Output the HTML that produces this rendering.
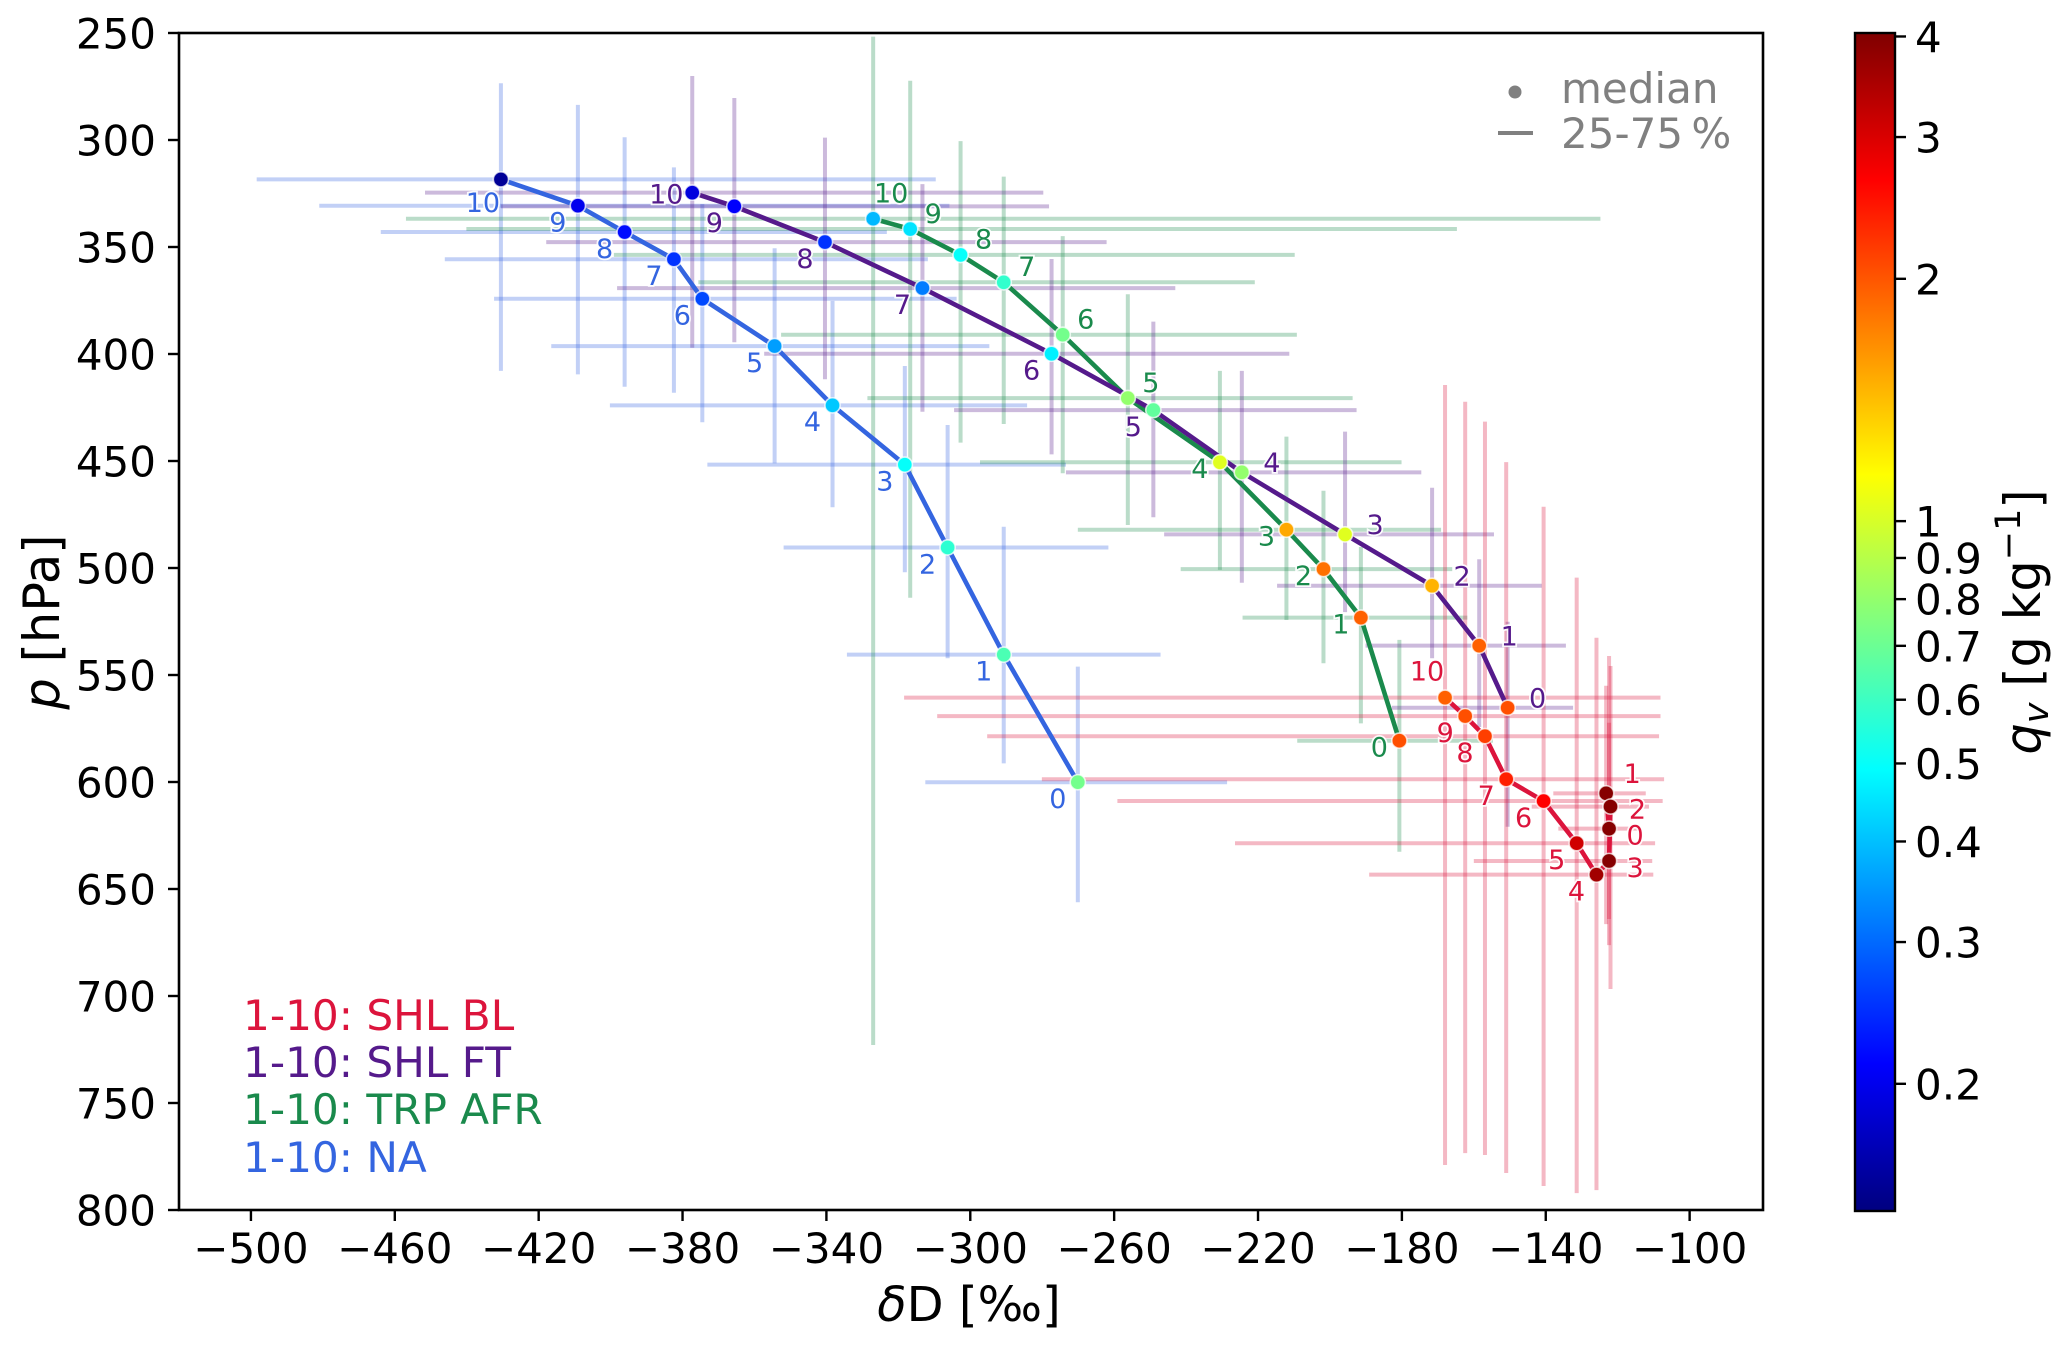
<!DOCTYPE html>
<html lang="en">
<head>
<meta charset="utf-8">
<title>Water vapour isotopologue composition along trajectory steps</title>
<style>
  html, body { margin: 0; padding: 0; background: #fff; }
  svg { display: block; font-family: "DejaVu Sans", "Liberation Sans", sans-serif; }
</style>
</head>
<body>
<svg id="chart" xmlns="http://www.w3.org/2000/svg" width="2067" height="1346" viewBox="0 0 2067 1346">
  <defs>
    <linearGradient id="jet-gradient" x1="0" y1="1" x2="0" y2="0"></linearGradient>
  </defs>
  <rect x="0" y="0" width="2067" height="1346" fill="#ffffff"/>
  <g id="plot-layer"></g>
  <rect x="179" y="33" width="1584" height="1177" fill="none" stroke="#000" stroke-width="2.6"/>
  <g id="axis-layer"></g>

  <text x="969" y="1321" font-size="48" text-anchor="middle" fill="#000"><tspan font-style="italic">δ</tspan>D [‰]</text>
  <text transform="translate(59,622) rotate(-90)" font-size="49.5" text-anchor="middle" fill="#000"><tspan font-style="italic">p</tspan> [hPa]</text>

  <g>
    <circle cx="1515" cy="92" r="6.5" fill="#808080"/>
    <text x="1561" y="103" font-size="42" fill="#808080">median</text>
    <rect x="1498" y="131" width="35" height="4" fill="#808080"/>
    <text x="1561" y="148" font-size="42" fill="#808080">25-75&#8201;%</text>
  </g>

  <g font-size="42.2">
    <text x="243" y="1030" fill="#dc143c">1-10: SHL BL</text>
    <text x="243" y="1077" fill="#551a8b">1-10: SHL FT</text>
    <text x="243" y="1124" fill="#1a8a4c">1-10: TRP AFR</text>
    <text x="243" y="1172" fill="#3465e0">1-10: NA</text>
  </g>

  <rect x="1855" y="33" width="40" height="1178" fill="url(#jet-gradient)" stroke="#000" stroke-width="2.4"/>
  <g id="colorbar-layer"></g>
  <text transform="translate(2040,622) rotate(-90)" font-size="49.5" text-anchor="middle" fill="#000"><tspan font-style="italic">q</tspan><tspan font-style="italic" font-size="35" dy="8">v</tspan><tspan dy="-8"> [g kg</tspan><tspan font-size="35" dy="-20">−1</tspan><tspan dy="20">]</tspan></text>
</svg>

<script>
// Axis tick values
const xTicks = [-500, -460, -420, -380, -340, -300, -260, -220, -180, -140, -100];
const yTicks = [250, 300, 350, 400, 450, 500, 550, 600, 650, 700, 750, 800];
const colorbarTicks = [0.2, 0.3, 0.4, 0.5, 0.6, 0.7, 0.8, 0.9, 1, 2, 3, 4];
const colorbarTickLabels = ['0.2', '0.3', '0.4', '0.5', '0.6', '0.7', '0.8', '0.9', '1', '2', '3', '4'];
const trajectorySteps = [0, 1, 2, 3, 4, 5, 6, 7, 8, 9, 10];

// NA
const naDelta = [-270.1, -290.7, -306.3, -318.2, -338.3, -354.4, -374.5, -382.4, -396.1, -409.1, -430.5];
const naPressure = [600.1, 540.5, 490.4, 451.7, 424, 396.3, 374.2, 355.7, 343, 330.7, 318.4];
const naDeltaLow = [-312.5, -334.3, -351.9, -373.1, -400.2, -416.5, -432.4, -446.1, -463.9, -481, -498.4];
const naDeltaHigh = [-228.6, -247.1, -261.6, -273.4, -284.2, -294.7, -303.8, -311.8, -323.2, -305.8, -309.6];
const naPressureLow = [546.1, 480.7, 433.2, 405.6, 375.2, 350.6, 329.9, 312.8, 298.7, 283.6, 273.5];
const naPressureHigh = [656.2, 591.3, 542.2, 502, 471.6, 451.1, 431.9, 418.1, 415.3, 409.5, 407.9];
const naHumidity = [0.72, 0.63, 0.57, 0.5, 0.41, 0.357, 0.27, 0.25, 0.22, 0.2, 0.15];

// TRP AFR
const trpDelta = [-180.7, -191.4, -201.8, -212.1, -230.6, -256.2, -274.3, -290.7, -302.7, -316.7, -327];
const trpPressure = [580.7, 523.2, 500.5, 482.1, 450.6, 420.6, 391, 366.5, 353.7, 341.6, 336.8];
const trpDeltaLow = [-209.1, -224.3, -241.5, -270.1, -297.3, -328.6, -352.6, -375.6, -399.1, -440.1, -456.9];
const trpDeltaHigh = [-154.7, -161.8, -166, -169.1, -180.1, -193.7, -209.2, -220.9, -209.8, -164.7, -124.8];
const trpPressureLow = [533.6, 490.2, 463.9, 438.6, 407.9, 372.1, 344.9, 317.1, 300.5, 272.3, 251.7];
const trpPressureHigh = [632.6, 572.6, 544.5, 524.3, 500.9, 479.9, 455.7, 432.7, 441.4, 513.9, 722.9];
const trpHumidity = [2.04, 1.93, 1.83, 1.52, 1.03, 0.8, 0.72, 0.58, 0.5, 0.45, 0.39];

// SHL FT
const ftDelta = [-150.6, -158.5, -171.6, -195.8, -224.5, -249.1, -277.4, -313.3, -340.4, -365.6, -377.3];
const ftPressure = [565.3, 536.3, 508.3, 484.3, 455.3, 426.2, 399.9, 369.2, 347.7, 331, 324.6];
const ftDeltaLow = [-182.8, -190.1, -214.7, -246.1, -273.4, -304.5, -357.3, -398.2, -417.9, -430.5, -451.6];
const ftDeltaHigh = [-132.4, -134.4, -141.1, -154.4, -174.6, -192.6, -211.3, -243, -262.1, -278.1, -279.7];
const ftPressureLow = [525.1, 495.9, 462.5, 436.3, 407.9, 384.9, 355.6, 320.6, 298.9, 280.4, 270.1];
const ftPressureHigh = [620.9, 574.3, 542.2, 520.6, 506.9, 476.3, 446.9, 427, 411.8, 394.5, 397.1];
const ftHumidity = [2.04, 1.93, 1.47, 1.03, 0.8, 0.68, 0.47, 0.32, 0.25, 0.21, 0.19];

// SHL BL
const blDelta = [-122.4, -123.2, -122, -122.4, -125.9, -131.4, -140.6, -151, -156.9, -162.4, -168];
const blPressure = [621.8, 605.3, 611.5, 636.9, 643.3, 628.6, 608.9, 598.7, 578.6, 569.2, 560.6];
const blDeltaLow = [-136.5, -137.9, -143.9, -160, -189.1, -226.4, -259.1, -280.1, -295.3, -309.2, -318.4];
const blDeltaHigh = [-113.8, -112.2, -111.3, -110.4, -110.1, -109.6, -107.5, -107.1, -108.5, -108.1, -108.1];
const blPressureLow = [541.1, 555, 545.8, 572.3, 532.6, 504.5, 471.4, 450.5, 431.6, 422.3, 414.5];
const blPressureHigh = [664, 666.4, 696.7, 676.2, 790.7, 792.1, 788.8, 782.7, 774.3, 773.4, 779];
const blHumidity = [3.95, 3.95, 3.95, 3.95, 3.6, 3.1, 2.65, 2.39, 2.16, 2.04, 1.93];

const SVG_NS = 'http://www.w3.org/2000/svg';
const plotLeft = 179, plotRight = 1763, plotTop = 33, plotBottom = 1210;
const deltaMin = -520, deltaMax = -79.6, pressureMin = 250, pressureMax = 800;
const humidityMin = 0.139, humidityMax = 4.04;
const barTop = 33, barBottom = 1211, barRight = 1895;

function xScale(value) {
  return plotLeft + (value - deltaMin) / (deltaMax - deltaMin) * (plotRight - plotLeft);
}
function yScale(value) {
  return plotTop + (value - pressureMin) / (pressureMax - pressureMin) * (plotBottom - plotTop);
}
function humidityFraction(value) {
  return Math.log(value / humidityMin) / Math.log(humidityMax / humidityMin);
}
function colorbarScale(value) {
  return barBottom - humidityFraction(value) * (barBottom - barTop);
}
function clamp01(v) {
  return Math.max(0, Math.min(1, v));
}
function jet(t) {
  const r = clamp01(Math.min(4 * t - 1.5, -4 * t + 4.5));
  const g = clamp01(Math.min(4 * t - 0.5, -4 * t + 3.5));
  const b = clamp01(Math.min(4 * t + 0.5, -4 * t + 2.5));
  return 'rgb(' + Math.round(r * 255) + ',' + Math.round(g * 255) + ',' + Math.round(b * 255) + ')';
}
function labelOffset(key, step) {
  if (key === 'na') return step === 10 ? [-18, 23] : [-20, 16];
  if (key === 'ft') {
    if (step === 10) return [-26, 1];
    return step <= 4 ? [30, -10] : [-20, 16];
  }
  if (key === 'trp') {
    if (step === 10) return [18, -26];
    return step <= 4 ? [-20, 6] : [23, -16];
  }
  if (step === 10) return [-18, -27];
  if (step === 1) return [26, -20];
  if (step === 2) return [27, 2];
  if (step === 0 || step === 3) return [26, 6];
  return [-20, 16];
}

const seriesList = [
  { key: 'na', color: '#3465e0', delta: naDelta, pressure: naPressure, deltaLow: naDeltaLow, deltaHigh: naDeltaHigh, pressureLow: naPressureLow, pressureHigh: naPressureHigh, humidity: naHumidity },
  { key: 'trp', color: '#1a8a4c', delta: trpDelta, pressure: trpPressure, deltaLow: trpDeltaLow, deltaHigh: trpDeltaHigh, pressureLow: trpPressureLow, pressureHigh: trpPressureHigh, humidity: trpHumidity },
  { key: 'ft', color: '#551a8b', delta: ftDelta, pressure: ftPressure, deltaLow: ftDeltaLow, deltaHigh: ftDeltaHigh, pressureLow: ftPressureLow, pressureHigh: ftPressureHigh, humidity: ftHumidity },
  { key: 'bl', color: '#dc143c', delta: blDelta, pressure: blPressure, deltaLow: blDeltaLow, deltaHigh: blDeltaHigh, pressureLow: blPressureLow, pressureHigh: blPressureHigh, humidity: blHumidity }
];

const plotLayer = document.getElementById('plot-layer');
const axisLayer = document.getElementById('axis-layer');
const colorbarLayer = document.getElementById('colorbar-layer');
const gradient = document.getElementById('jet-gradient');

function make(tag, parent) {
  const node = document.createElementNS(SVG_NS, tag);
  parent.appendChild(node);
  return node;
}

for (let i = 0; i <= 64; i++) {
  const stop = make('stop', gradient);
  stop.setAttribute('offset', String(i / 64));
  stop.setAttribute('stop-color', jet(i / 64));
}

seriesList.forEach(function (series) {
  const group = make('g', plotLayer);
  
  
  trajectorySteps.forEach(function (step, i) {
    const hBar = make('line', group);
    
    
    hBar.setAttribute('x1', xScale(series.deltaLow[i]));
    hBar.setAttribute('x2', xScale(series.deltaHigh[i]));
    hBar.setAttribute('y1', yScale(series.pressure[i]));
    hBar.setAttribute('y2', yScale(series.pressure[i]));
    hBar.setAttribute('stroke', series.color);
    hBar.setAttribute('stroke-width', '4');
    hBar.setAttribute('stroke-opacity', '0.3');

    const vBar = make('line', group);
    
    
    vBar.setAttribute('x1', xScale(series.delta[i]));
    vBar.setAttribute('x2', xScale(series.delta[i]));
    vBar.setAttribute('y1', yScale(series.pressureLow[i]));
    vBar.setAttribute('y2', yScale(series.pressureHigh[i]));
    vBar.setAttribute('stroke', series.color);
    vBar.setAttribute('stroke-width', '4');
    vBar.setAttribute('stroke-opacity', '0.3');
  });
});

seriesList.forEach(function (series) {
  const line = make('polyline', plotLayer);
  
  
  line.setAttribute('points', trajectorySteps.map(function (step, i) {
    return xScale(series.delta[i]).toFixed(2) + ',' + yScale(series.pressure[i]).toFixed(2);
  }).join(' '));
  line.setAttribute('fill', 'none');
  line.setAttribute('stroke', series.color);
  line.setAttribute('stroke-width', '4.6');
  line.setAttribute('stroke-linejoin', 'round');
});

seriesList.forEach(function (series) {
  trajectorySteps.forEach(function (step, i) {
    const marker = make('circle', plotLayer);
    
    
    marker.setAttribute('cx', xScale(series.delta[i]));
    marker.setAttribute('cy', yScale(series.pressure[i]));
    marker.setAttribute('r', '7.6');
    marker.setAttribute('fill', jet(humidityFraction(series.humidity[i])));
    marker.setAttribute('stroke', '#ffffff');
    marker.setAttribute('stroke-opacity', '0.75');
    marker.setAttribute('stroke-width', '1.6');
  });
});

seriesList.forEach(function (series) {
  trajectorySteps.forEach(function (step, i) {
    const offset = labelOffset(series.key, step);
    const label = make('text', plotLayer);
    
    
    label.setAttribute('x', xScale(series.delta[i]) + offset[0]);
    label.setAttribute('y', yScale(series.pressure[i]) + offset[1] + 9.8);
    label.setAttribute('font-size', '27');
    label.setAttribute('text-anchor', 'middle');
    label.setAttribute('fill', series.color);
    label.setAttribute('stroke', '#ffffff');
    label.setAttribute('stroke-width', '3.5');
    label.setAttribute('stroke-opacity', '0.9');
    label.setAttribute('paint-order', 'stroke');
    label.textContent = String(step);
  });
});

xTicks.forEach(function (value) {
  const tick = make('line', axisLayer);
  
  
  tick.setAttribute('x1', xScale(value));
  tick.setAttribute('x2', xScale(value));
  tick.setAttribute('y1', plotBottom);
  tick.setAttribute('y2', plotBottom + 11);
  tick.setAttribute('stroke', '#000');
  tick.setAttribute('stroke-width', '2.4');

  const label = make('text', axisLayer);
  
  
  label.setAttribute('x', xScale(value));
  label.setAttribute('y', 1263);
  label.setAttribute('font-size', '42');
  label.setAttribute('text-anchor', 'middle');
  label.textContent = '\u2212' + Math.abs(value);
});

yTicks.forEach(function (value) {
  const tick = make('line', axisLayer);
  
  
  tick.setAttribute('x1', plotLeft - 11);
  tick.setAttribute('x2', plotLeft);
  tick.setAttribute('y1', yScale(value));
  tick.setAttribute('y2', yScale(value));
  tick.setAttribute('stroke', '#000');
  tick.setAttribute('stroke-width', '2.4');

  const label = make('text', axisLayer);
  
  
  label.setAttribute('x', 156);
  label.setAttribute('y', yScale(value) + 15.5);
  label.setAttribute('font-size', '42');
  label.setAttribute('text-anchor', 'end');
  label.textContent = String(value);
});

colorbarTicks.forEach(function (value, i) {
  const tick = make('line', colorbarLayer);
  
  
  tick.setAttribute('x1', barRight);
  tick.setAttribute('x2', barRight + 11);
  tick.setAttribute('y1', colorbarScale(value));
  tick.setAttribute('y2', colorbarScale(value));
  tick.setAttribute('stroke', '#000');
  tick.setAttribute('stroke-width', '2.4');

  const label = make('text', colorbarLayer);
  
  
  label.setAttribute('x', 1915);
  label.setAttribute('y', colorbarScale(value) + 15.5);
  label.setAttribute('font-size', '42');
  label.textContent = colorbarTickLabels[i];
});
</script>
</body>
</html>
